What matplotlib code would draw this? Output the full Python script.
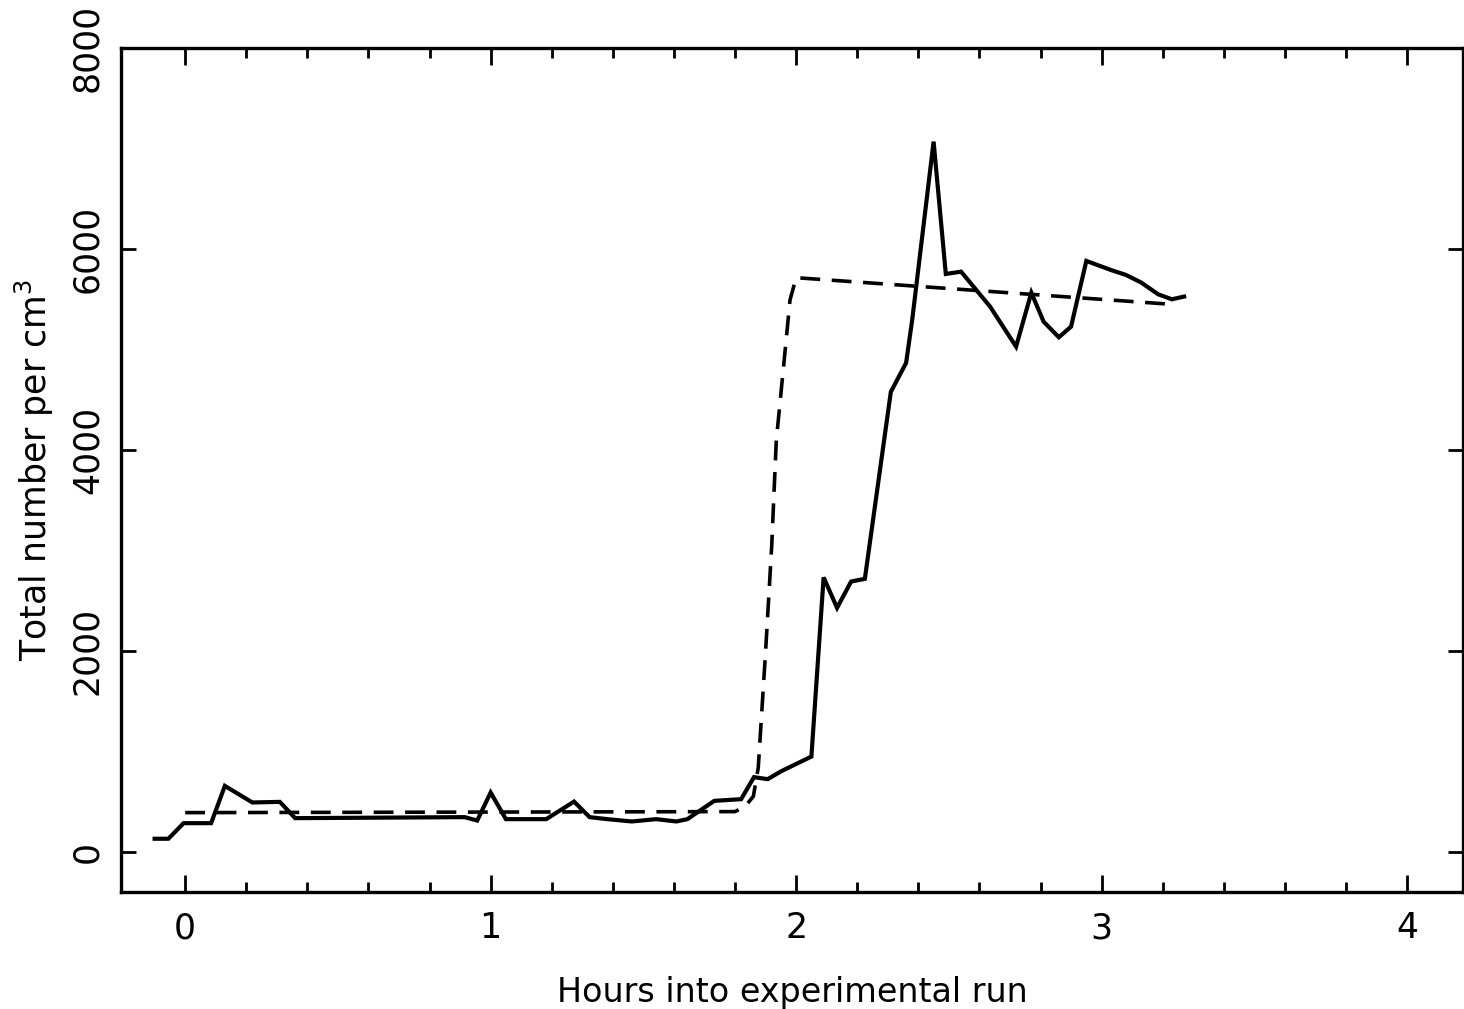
import matplotlib.pyplot as plt

# measured particle concentration (solid)
hours = [-0.10, -0.055, -0.005, 0.085, 0.13, 0.22, 0.31, 0.36, 0.915, 0.956,
         1.0, 1.05, 1.182, 1.273, 1.324, 1.382, 1.462, 1.542, 1.608, 1.644,
         1.732, 1.82, 1.862, 1.907, 1.95, 2.05, 2.09, 2.134, 2.18, 2.225,
         2.31, 2.36, 2.38, 2.45, 2.49, 2.54, 2.635, 2.72, 2.77, 2.81,
         2.86, 2.90, 2.95, 3.03, 3.08, 3.13, 3.185, 3.23, 3.27]
total = [130, 130, 285, 285, 656, 491, 497, 335, 345, 311,
         590, 325, 325, 500, 345, 325, 302, 325, 302, 325,
         507, 524, 743, 723, 800, 948, 2731, 2428, 2690, 2717,
         4577, 4866, 5294, 7068, 5751, 5774, 5426, 5028, 5565, 5277,
         5121, 5227, 5881, 5791, 5741, 5665, 5549, 5499, 5526]

# model curve (dashed)
model_hours = [0.0, 1.80, 1.833, 1.86, 1.876, 1.90, 1.92, 1.935, 1.96,
               1.98, 2.0, 3.21]
model_total = [390, 400, 451, 552, 836, 1990, 3040, 4090, 4865,
               5492, 5714, 5453]

x_ticks = [0, 1, 2, 3, 4]
x_minor = [0.2, 0.4, 0.6, 0.8, 1.2, 1.4, 1.6, 1.8, 2.2, 2.4, 2.6, 2.8,
           3.2, 3.4, 3.6, 3.8]
y_ticks = [0, 2000, 4000, 6000, 8000]

fig = plt.figure(figsize=(14.64, 10.09), dpi=100)
ax = fig.add_axes([121 / 1464, 1 - 892 / 1009, 1342 / 1464, 844 / 1009])

ax.plot(hours, total, color="black", linewidth=3.0, solid_joinstyle="miter")
ax.plot(model_hours, model_total, color="black", linewidth=2.6,
        dashes=(5.5, 3.2))

ax.set_xlim(-0.21, 4.183)
ax.set_ylim(-400, 8000)

ax.set_xticks(x_ticks)
ax.set_xticklabels([str(t) for t in x_ticks])
ax.set_xticks(x_minor, minor=True)
ax.set_yticks(y_ticks)
ax.set_yticklabels([str(t) for t in y_ticks], rotation=90, va="center")

ax.xaxis.set_ticks_position("both")
ax.yaxis.set_ticks_position("both")
ax.tick_params(axis="x", which="major", direction="in", length=12,
               width=2.0, labelsize=25, pad=14)
ax.tick_params(axis="x", which="minor", direction="in", length=7,
               width=2.0)
ax.tick_params(axis="y", which="major", direction="in", length=11,
               width=2.0, labelsize=25, pad=12)

for s in ax.spines.values():
    s.set_linewidth(2.4)

ax.set_xlabel("Hours into experimental run", fontsize=24, labelpad=22)
ax.set_ylabel("Total number per cm$^3$", fontsize=25, labelpad=10)

fig.savefig("out.png", dpi=100)
